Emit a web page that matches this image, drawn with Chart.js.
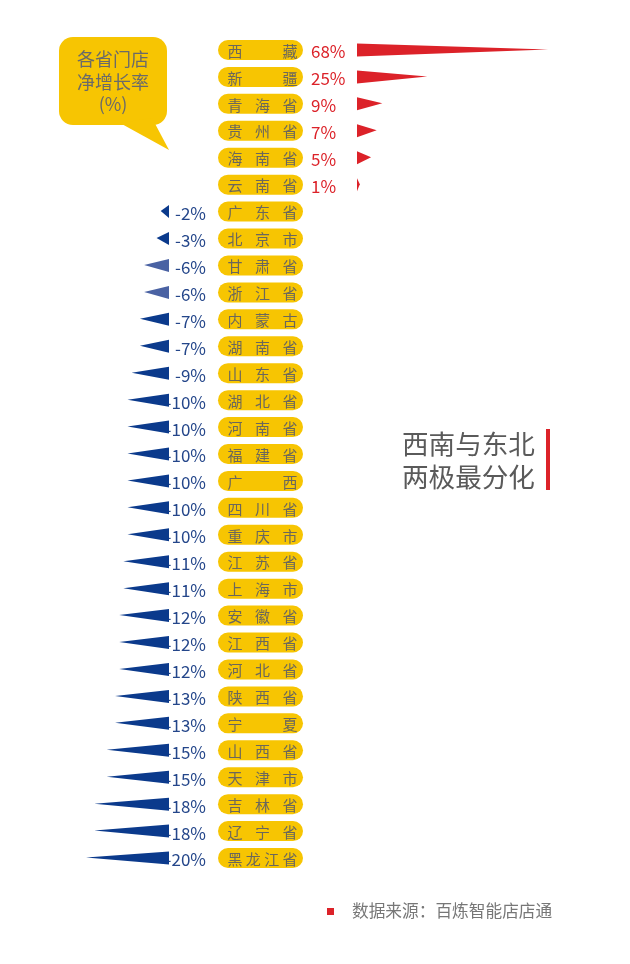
<!DOCTYPE html>
<html>
<head>
<meta charset="utf-8">
<script src="https://cdn.jsdelivr.net/npm/chart.js@4/dist/chart.umd.min.js"></script>
<style>
  body { margin: 0; background: #fff; }
  #wrap { width: 630px; height: 964px; position: relative; }
</style>
</head>
<body>
<div id="wrap"><canvas id="chart"></canvas></div>
<script>
const provinces = ["西藏", "新疆", "青海省", "贵州省", "海南省", "云南省", "广东省", "北京市",
    "甘肃省", "浙江省", "内蒙古", "湖南省", "山东省", "湖北省", "河南省", "福建省", "广西",
    "四川省", "重庆市", "江苏省", "上海市", "安徽省", "江西省", "河北省", "陕西省", "宁夏",
    "山西省", "天津市", "吉林省", "辽宁省", "黑龙江省"];
const growth = [68, 25, 9, 7, 5, 1, -2, -3, -6, -6, -7, -7, -9, -10, -10, -10, -10, -10, -10,
    -11, -11, -12, -12, -12, -13, -13, -15, -15, -18, -18, -20];
const lighter = [8, 9]; // the two -6% rows are drawn in a paler blue

const FONT = '"Noto Sans CJK SC", "Noto Sans", sans-serif';
const RED = "#dc2229";
const BLUE = "#0b3a8c";
const PALE = "#4a62a3";
const GOLD = "#f7c502";

const posData = growth.map(v => v > 0 ? v : null);
const negData = growth.map(v => v < 0 ? v : null);

// pills, value labels and notes
const decor = {
    id: "decor",
    beforeDatasetsDraw(chart) {
        const ctx = chart.ctx;
        const y = chart.scales.y;
        ctx.save();

        provinces.forEach((name, i) => {
            const cy = y.getPixelForValue(i);
            ctx.fillStyle = GOLD;
            ctx.beginPath();
            ctx.roundRect(218, cy - 10, 85, 20, 10);
            ctx.fill();

            ctx.fillStyle = "#6b675c";
            ctx.font = "15px " + FONT;
            ctx.textAlign = "center";
            ctx.textBaseline = "middle";
            const chars = [...name];
            const step = 55 / (chars.length - 1);
            chars.forEach((c, k) => ctx.fillText(c, 235 + k * step, cy + 1));

            const v = growth[i];
            ctx.font = "17px " + FONT;
            if (v > 0) {
                ctx.fillStyle = RED;
                ctx.textAlign = "left";
                ctx.fillText(v + "%", 311, cy + 2);
            } else {
                ctx.fillStyle = "#24468a";
                ctx.textAlign = "right";
                ctx.fillText(v + "%", 206, cy + 2);
            }
        });

        // speech bubble
        ctx.fillStyle = GOLD;
        ctx.beginPath();
        ctx.roundRect(59, 37, 108, 88, 14);
        ctx.fill();
        ctx.beginPath();
        ctx.moveTo(120, 123);
        ctx.lineTo(169, 150);
        ctx.lineTo(152, 118);
        ctx.closePath();
        ctx.fill();
        ctx.fillStyle = "#6a6a6a";
        ctx.font = "18px " + FONT;
        ctx.textAlign = "center";
        ctx.textBaseline = "middle";
        ctx.fillText("各省门店", 113, 59);
        ctx.fillText("净增长率", 113, 82);
        ctx.fillText("(%)", 113, 104);

        // side note
        ctx.fillStyle = "#5a5a5a";
        ctx.font = "26.6px " + FONT;
        ctx.textAlign = "left";
        ctx.fillText("西南与东北", 402, 444);
        ctx.fillText("两极最分化", 402, 477);
        ctx.fillStyle = RED;
        ctx.fillRect(546, 429, 4, 61);

        // source
        ctx.fillRect(327, 908, 7, 7);
        ctx.fillStyle = "#777";
        ctx.font = "16.7px " + FONT;
        ctx.fillText("数据来源：百炼智能店店通", 352, 911);
        ctx.restore();
    },
    afterDatasetsDraw(chart) {
        const ctx = chart.ctx;
        ctx.save();
        chart.data.datasets.forEach((ds, d) => {
            chart.getDatasetMeta(d).data.forEach((bar, i) => {
                if (ds.data[i] === null) return;
                const { x, y, base } = bar.getProps(["x", "y", "base"], true);
                const h = 13;
                ctx.fillStyle = ds.data[i] > 0 ? RED : (lighter.includes(i) ? PALE : BLUE);
                ctx.beginPath();
                ctx.moveTo(base, y - h / 2);
                ctx.lineTo(x, y - 0.5);
                ctx.lineTo(base, y + h / 2);
                ctx.closePath();
                ctx.fill();
            });
        });
        ctx.restore();
    }
};

new Chart(document.getElementById("chart"), {
    type: "bar",
    data: {
        labels: provinces,
        datasets: [
            { data: posData, xAxisID: "xp", grouped: false, backgroundColor: "rgba(0,0,0,0)", borderWidth: 0 },
            { data: negData, xAxisID: "xn", grouped: false, backgroundColor: "rgba(0,0,0,0)", borderWidth: 0 }
        ]
    },
    options: {
        indexAxis: "y",
        responsive: true,
        maintainAspectRatio: false,
        animation: false,
        layout: { padding: { top: 36.5, bottom: 92.5, left: 0, right: 0 } },
        scales: {
            y: { display: false },
            xp: { display: false, min: -127.05, max: 97.15 },
            xn: { display: false, min: -40.72, max: 111.08 }
        },
        plugins: { legend: { display: false }, tooltip: { enabled: false } }
    },
    plugins: [decor]
});
</script>
</body>
</html>
